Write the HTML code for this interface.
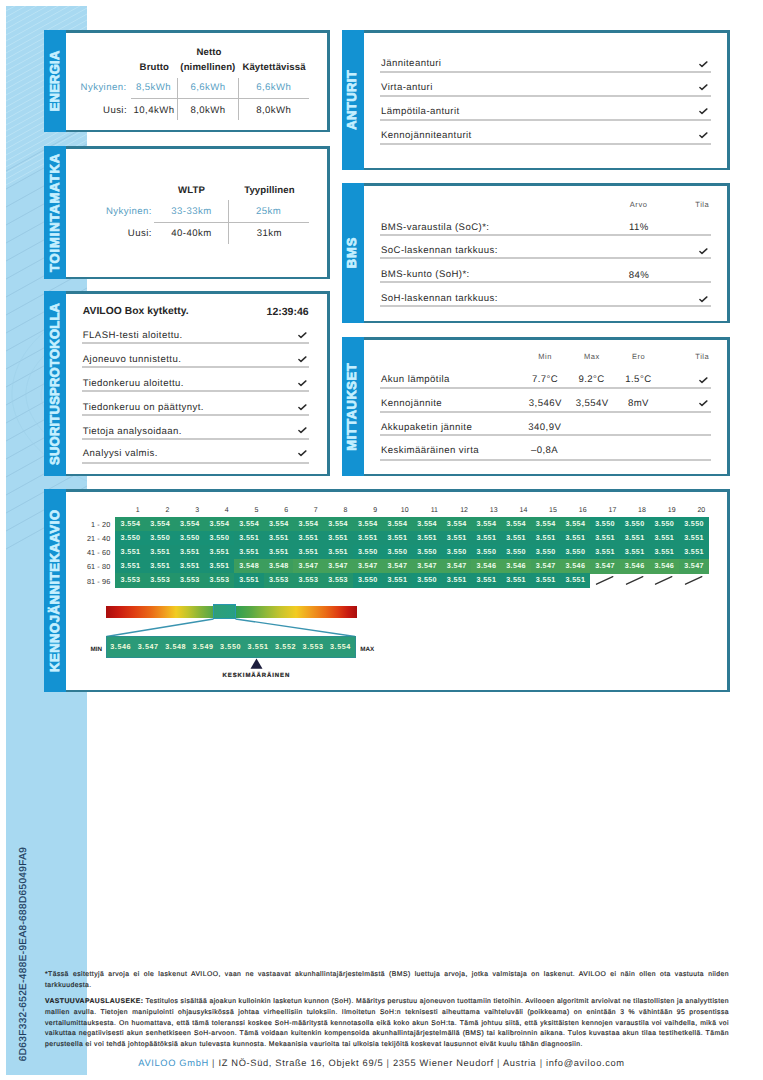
<!DOCTYPE html><html lang="fi"><head><meta charset="utf-8"><title>AVILOO</title><style>
*{margin:0;padding:0;box-sizing:border-box}
html,body{width:763px;height:1080px;overflow:hidden;background:#fff}
body{position:relative;font-family:"Liberation Sans",sans-serif;color:#2e2e2e;text-rendering:geometricPrecision}
.strip{position:absolute;left:6px;top:6px;width:81px;height:1069px;background:#a8d9f1;overflow:hidden}
.panel{position:absolute;background:#2f7a94}
.panel .bar{position:absolute;left:0;top:0;bottom:0;width:21px;background:#1392d2}
.panel .in{position:absolute;left:21px;top:2.5px;right:3px;bottom:2.5px;background:#fff}
.panel .lbl{position:absolute;left:9.3px;top:50%;transform:translate(-50%,-50%) rotate(-90deg);
  white-space:nowrap;font-weight:bold;font-size:13px;line-height:13px;color:#c6f0ff;letter-spacing:0;-webkit-text-stroke:0.75px #c6f0ff}
.t{position:absolute;white-space:nowrap;font-size:9.6px;letter-spacing:0.42px;color:#2b2b2b}
.b{font-weight:bold;letter-spacing:0.1px;color:#262626}
.blue{color:#5a9fc4}
.sm{font-size:7.5px;letter-spacing:0.55px;color:#555}
.sep{position:absolute;height:2px;background:#cbcbcb}
.vsep{position:absolute;width:1.4px;background:#bcbcbc}
.hsep{position:absolute;height:1.4px;background:#bcbcbc}
.ck{position:absolute;width:9px;height:7px;line-height:0}
.ck svg{display:block}
.cell{position:absolute;height:14.1px;line-height:14.1px;text-align:center;font-weight:bold;font-size:7.2px;color:#eefcec;letter-spacing:0.35px;padding-left:0.35px}
.num{position:absolute;font-size:7px;line-height:8px;color:#333;text-align:center;width:20px}
.rl{position:absolute;font-size:7.3px;line-height:8px;color:#333;text-align:right;width:40px;letter-spacing:0.1px}
.foot{position:absolute;left:45px;width:684px;font-size:6.8px;letter-spacing:0.45px;word-spacing:-0.6px;line-height:10.6px;color:#1a1a1a;-webkit-text-stroke:0.15px #1a1a1a;text-align:justify;text-align-last:justify;white-space:nowrap}
</style></head><body>
<div class="strip"><svg width="81" height="1069" viewBox="0 0 81 1069" style="position:absolute;left:0;top:0"><g stroke="#c0e5f6" stroke-width="0.9" fill="none" opacity="0.85"><line x1="0" y1="5" x2="81" y2="-40"/><line x1="0" y1="11" x2="81" y2="-34"/><line x1="0" y1="17" x2="81" y2="-28"/><line x1="0" y1="23" x2="81" y2="-22"/><line x1="0" y1="29" x2="81" y2="-16"/><line x1="0" y1="35" x2="81" y2="-10"/><line x1="0" y1="41" x2="81" y2="-4"/><line x1="0" y1="47" x2="81" y2="2"/><line x1="0" y1="53" x2="81" y2="8"/><line x1="0" y1="59" x2="81" y2="14"/><line x1="0" y1="65" x2="81" y2="20"/><line x1="0" y1="71" x2="81" y2="26"/><line x1="0" y1="77" x2="81" y2="32"/><line x1="0" y1="83" x2="81" y2="38"/><line x1="0" y1="89" x2="81" y2="44"/><line x1="0" y1="95" x2="81" y2="50"/><line x1="0" y1="101" x2="81" y2="56"/><line x1="0" y1="107" x2="81" y2="62"/><line x1="0" y1="113" x2="81" y2="68"/><line x1="0" y1="119" x2="81" y2="74"/><line x1="0" y1="125" x2="81" y2="80"/><line x1="0" y1="131" x2="81" y2="86"/><line x1="0" y1="137" x2="81" y2="92"/><line x1="0" y1="143" x2="81" y2="98"/><line x1="0" y1="149" x2="81" y2="104"/><line x1="0" y1="155" x2="81" y2="110"/><line x1="0" y1="161" x2="81" y2="116"/><line x1="0" y1="167" x2="81" y2="122"/><line x1="0" y1="173" x2="81" y2="128"/><line x1="0" y1="179" x2="81" y2="134"/></g><g stroke="#97c8e3" stroke-width="1" fill="none" opacity="0.85"><line x1="0" y1="165" x2="81" y2="120"/><line x1="0" y1="183" x2="81" y2="138"/><line x1="0" y1="201" x2="81" y2="156"/><line x1="0" y1="219" x2="81" y2="174"/><line x1="0" y1="237" x2="81" y2="192"/><line x1="0" y1="255" x2="81" y2="210"/><line x1="0" y1="273" x2="81" y2="228"/><line x1="0" y1="291" x2="81" y2="246"/><line x1="0" y1="309" x2="81" y2="264"/><line x1="0" y1="327" x2="81" y2="282"/><line x1="0" y1="345" x2="81" y2="300"/><line x1="0" y1="363" x2="81" y2="318"/><line x1="0" y1="381" x2="81" y2="336"/><line x1="0" y1="399" x2="81" y2="354"/><line x1="0" y1="417" x2="81" y2="372"/><line x1="0" y1="435" x2="81" y2="390"/><line x1="0" y1="453" x2="81" y2="408"/><line x1="0" y1="471" x2="81" y2="426"/><line x1="0" y1="489" x2="81" y2="444"/><line x1="0" y1="507" x2="81" y2="462"/><line x1="0" y1="525" x2="81" y2="480"/><line x1="0" y1="543" x2="81" y2="498"/></g><g stroke="#9dd0ea" stroke-width="0.8" fill="none" opacity="0.7"><path d="M81 300 C35 320 8 350 6 385 C4 420 35 455 81 475"/><path d="M81 322 C45 338 22 360 20 385 C18 412 45 440 81 455"/><path d="M81 345 C55 355 36 370 35 388 C34 405 55 425 81 432"/></g></svg><div style="position:absolute;left:11.3px;top:842px;width:14px;height:212px"><div style="position:absolute;left:7px;top:106px;transform:translate(-50%,-50%) rotate(-90deg);white-space:nowrap;font-size:10px;line-height:10px;color:#1d3c5e;letter-spacing:0.38px;-webkit-text-stroke:0.2px #1d3c5e">6D63F332-652E-488E-9EA8-688D65049FA9</div></div></div>
<div class="panel" style="left:44px;top:30px;width:286px;height:102px"><div class="bar" style="width:21.5px"></div><div class="in" style="left:21.5px"></div><div class="lbl" style="left:9.55px;letter-spacing:0.23px;padding-left:0.23px">ENERGIA</div></div>
<div class="panel" style="left:341.6px;top:30px;width:388.4px;height:140px"><div class="bar" style="width:22.2px"></div><div class="in" style="left:22.2px"></div><div class="lbl" style="left:9.90px;letter-spacing:0.43px;padding-left:0.43px">ANTURIT</div></div>
<div class="panel" style="left:44px;top:146px;width:286px;height:133px"><div class="bar" style="width:21.5px"></div><div class="in" style="left:21.5px"></div><div class="lbl" style="left:9.55px;letter-spacing:0.88px;padding-left:0.88px">TOIMINTAMATKA</div></div>
<div class="panel" style="left:341.6px;top:183px;width:388.4px;height:140px"><div class="bar" style="width:22.2px"></div><div class="in" style="left:22.2px"></div><div class="lbl" style="left:9.90px;letter-spacing:0.9px;padding-left:0.9px">BMS</div></div>
<div class="panel" style="left:44px;top:291px;width:286px;height:185px"><div class="bar" style="width:21.5px"></div><div class="in" style="left:21.5px"></div><div class="lbl" style="left:9.55px;letter-spacing:0.24px;padding-left:0.24px">SUORITUSPROTOKOLLA</div></div>
<div class="panel" style="left:341.6px;top:337px;width:388.4px;height:139px"><div class="bar" style="width:22.2px"></div><div class="in" style="left:22.2px"></div><div class="lbl" style="left:9.90px;letter-spacing:0.5px;padding-left:0.5px">MITTAUKSET</div></div>
<div class="panel" style="left:44px;top:489px;width:686px;height:203px"><div class="bar" style="width:21.5px"></div><div class="in" style="left:21.5px"></div><div class="lbl" style="left:9.55px;letter-spacing:0.59px;padding-left:0.59px">KENNOJÄNNITEKAAVIO</div></div>
<div class="t b" style="left:59.0px;width:300px;text-align:center;top:47.1px;line-height:12px;">Netto</div>
<div class="t b" style="left:4.3px;width:300px;text-align:center;top:62.3px;line-height:12px;">Brutto</div>
<div class="t b" style="left:57.9px;width:300px;text-align:center;top:62.3px;line-height:12px;">(nimellinen)</div>
<div class="t b" style="left:124.0px;width:300px;text-align:center;top:62.3px;line-height:12px;">Käytettävissä</div>
<div class="t blue" style="left:-173.5px;width:300px;text-align:right;top:81.8px;line-height:12px;">Nykyinen:</div>
<div class="t blue" style="left:3.5px;width:300px;text-align:center;top:81.8px;line-height:12px;">8,5kWh</div>
<div class="t blue" style="left:58.0px;width:300px;text-align:center;top:81.8px;line-height:12px;">6,6kWh</div>
<div class="t blue" style="left:123.8px;width:300px;text-align:center;top:81.8px;line-height:12px;">6,6kWh</div>
<div class="t " style="left:-173.0px;width:300px;text-align:right;top:104.8px;line-height:12px;">Uusi:</div>
<div class="t " style="left:4.0px;width:300px;text-align:center;top:104.8px;line-height:12px;">10,4kWh</div>
<div class="t " style="left:58.0px;width:300px;text-align:center;top:104.8px;line-height:12px;">8,0kWh</div>
<div class="t " style="left:123.8px;width:300px;text-align:center;top:104.8px;line-height:12px;">8,0kWh</div>
<div class="vsep" style="left:177.0px;top:77.5px;height:42.0px"></div>
<div class="vsep" style="left:238.0px;top:77.5px;height:42.0px"></div>
<div class="hsep" style="left:131.3px;top:98px;width:177.3px"></div>
<div class="t b" style="left:41.5px;width:300px;text-align:center;top:185.4px;line-height:12px;">WLTP</div>
<div class="t b" style="left:119.4px;width:300px;text-align:center;top:185.4px;line-height:12px;">Tyypillinen</div>
<div class="t blue" style="left:-148.2px;width:300px;text-align:right;top:205.6px;line-height:12px;">Nykyinen:</div>
<div class="t blue" style="left:41.5px;width:300px;text-align:center;top:205.6px;line-height:12px;">33-33km</div>
<div class="t blue" style="left:118.6px;width:300px;text-align:center;top:205.6px;line-height:12px;">25km</div>
<div class="t " style="left:-148.2px;width:300px;text-align:right;top:227.6px;line-height:12px;">Uusi:</div>
<div class="t " style="left:41.5px;width:300px;text-align:center;top:227.6px;line-height:12px;">40-40km</div>
<div class="t " style="left:119.4px;width:300px;text-align:center;top:227.6px;line-height:12px;">31km</div>
<div class="hsep" style="left:153.9px;top:222px;width:154.7px"></div>
<div class="vsep" style="left:228.0px;top:200.0px;height:44.0px"></div>
<div class="t b" style="left:82.8px;top:306.3px;line-height:12px;font-size:10.3px;letter-spacing:0.05px">AVILOO Box kytketty.</div>
<div class="t b" style="left:8.6px;width:300px;text-align:right;top:306.0px;line-height:12px;font-size:10.5px;letter-spacing:0">12:39:46</div>
<div class="t " style="left:82.8px;top:330.1px;line-height:12px;">FLASH-testi aloitettu.</div>
<div class="sep" style="left:82.0px;top:342px;width:227.0px"></div>
<div class="ck" style="left:297.5px;top:332.0px"><svg width="9" height="7" viewBox="0 0 9 7"><path d="M0.9 3.4 L3.0 5.4 L7.9 0.9" fill="none" stroke="#2c2c2c" stroke-width="1.45" stroke-linecap="round" stroke-linejoin="round"/></svg></div>
<div class="t " style="left:82.8px;top:354.1px;line-height:12px;">Ajoneuvo tunnistettu.</div>
<div class="sep" style="left:82.0px;top:366px;width:227.0px"></div>
<div class="ck" style="left:297.5px;top:356.0px"><svg width="9" height="7" viewBox="0 0 9 7"><path d="M0.9 3.4 L3.0 5.4 L7.9 0.9" fill="none" stroke="#2c2c2c" stroke-width="1.45" stroke-linecap="round" stroke-linejoin="round"/></svg></div>
<div class="t " style="left:82.8px;top:377.7px;line-height:12px;">Tiedonkeruu aloitettu.</div>
<div class="sep" style="left:82.0px;top:390px;width:227.0px"></div>
<div class="ck" style="left:297.5px;top:379.6px"><svg width="9" height="7" viewBox="0 0 9 7"><path d="M0.9 3.4 L3.0 5.4 L7.9 0.9" fill="none" stroke="#2c2c2c" stroke-width="1.45" stroke-linecap="round" stroke-linejoin="round"/></svg></div>
<div class="t " style="left:82.8px;top:401.8px;line-height:12px;">Tiedonkeruu on päättynyt.</div>
<div class="sep" style="left:82.0px;top:414px;width:227.0px"></div>
<div class="ck" style="left:297.5px;top:403.7px"><svg width="9" height="7" viewBox="0 0 9 7"><path d="M0.9 3.4 L3.0 5.4 L7.9 0.9" fill="none" stroke="#2c2c2c" stroke-width="1.45" stroke-linecap="round" stroke-linejoin="round"/></svg></div>
<div class="t " style="left:82.8px;top:425.5px;line-height:12px;">Tietoja analysoidaan.</div>
<div class="sep" style="left:82.0px;top:438px;width:227.0px"></div>
<div class="ck" style="left:297.5px;top:427.4px"><svg width="9" height="7" viewBox="0 0 9 7"><path d="M0.9 3.4 L3.0 5.4 L7.9 0.9" fill="none" stroke="#2c2c2c" stroke-width="1.45" stroke-linecap="round" stroke-linejoin="round"/></svg></div>
<div class="t " style="left:82.8px;top:448.1px;line-height:12px;">Analyysi valmis.</div>
<div class="sep" style="left:82.0px;top:462px;width:227.0px"></div>
<div class="ck" style="left:297.5px;top:450.0px"><svg width="9" height="7" viewBox="0 0 9 7"><path d="M0.9 3.4 L3.0 5.4 L7.9 0.9" fill="none" stroke="#2c2c2c" stroke-width="1.45" stroke-linecap="round" stroke-linejoin="round"/></svg></div>
<div class="t " style="left:381.0px;top:58.3px;line-height:12px;">Jänniteanturi</div>
<div class="sep" style="left:380.0px;top:71px;width:330.5px"></div>
<div class="ck" style="left:698.5px;top:60.5px"><svg width="9" height="7" viewBox="0 0 9 7"><path d="M0.9 3.4 L3.0 5.4 L7.9 0.9" fill="none" stroke="#2c2c2c" stroke-width="1.45" stroke-linecap="round" stroke-linejoin="round"/></svg></div>
<div class="t " style="left:381.0px;top:82.0px;line-height:12px;">Virta-anturi</div>
<div class="sep" style="left:380.0px;top:95px;width:330.5px"></div>
<div class="ck" style="left:698.5px;top:84.2px"><svg width="9" height="7" viewBox="0 0 9 7"><path d="M0.9 3.4 L3.0 5.4 L7.9 0.9" fill="none" stroke="#2c2c2c" stroke-width="1.45" stroke-linecap="round" stroke-linejoin="round"/></svg></div>
<div class="t " style="left:381.0px;top:106.1px;line-height:12px;">Lämpötila-anturit</div>
<div class="sep" style="left:380.0px;top:119px;width:330.5px"></div>
<div class="ck" style="left:698.5px;top:108.3px"><svg width="9" height="7" viewBox="0 0 9 7"><path d="M0.9 3.4 L3.0 5.4 L7.9 0.9" fill="none" stroke="#2c2c2c" stroke-width="1.45" stroke-linecap="round" stroke-linejoin="round"/></svg></div>
<div class="t " style="left:381.0px;top:130.0px;line-height:12px;">Kennojänniteanturit</div>
<div class="sep" style="left:380.0px;top:143px;width:330.5px"></div>
<div class="ck" style="left:698.5px;top:132.2px"><svg width="9" height="7" viewBox="0 0 9 7"><path d="M0.9 3.4 L3.0 5.4 L7.9 0.9" fill="none" stroke="#2c2c2c" stroke-width="1.45" stroke-linecap="round" stroke-linejoin="round"/></svg></div>
<div class="t sm" style="left:488.6px;width:300px;text-align:center;top:198.6px;line-height:12px;">Arvo</div>
<div class="t sm" style="left:552.3px;width:300px;text-align:center;top:198.6px;line-height:12px;">Tila</div>
<div class="t " style="left:381.0px;top:221.9px;line-height:12px;">BMS-varaustila (SoC)*:</div>
<div class="sep" style="left:380.0px;top:234px;width:330.5px"></div>
<div class="t " style="left:381.0px;top:244.8px;line-height:12px;">SoC-laskennan tarkkuus:</div>
<div class="sep" style="left:380.0px;top:257px;width:330.5px"></div>
<div class="ck" style="left:698.5px;top:247.5px"><svg width="9" height="7" viewBox="0 0 9 7"><path d="M0.9 3.4 L3.0 5.4 L7.9 0.9" fill="none" stroke="#2c2c2c" stroke-width="1.45" stroke-linecap="round" stroke-linejoin="round"/></svg></div>
<div class="t " style="left:381.0px;top:269.2px;line-height:12px;">BMS-kunto (SoH)*:</div>
<div class="sep" style="left:380.0px;top:281px;width:330.5px"></div>
<div class="t " style="left:381.0px;top:293.4px;line-height:12px;">SoH-laskennan tarkkuus:</div>
<div class="sep" style="left:380.0px;top:305px;width:330.5px"></div>
<div class="ck" style="left:698.5px;top:296.1px"><svg width="9" height="7" viewBox="0 0 9 7"><path d="M0.9 3.4 L3.0 5.4 L7.9 0.9" fill="none" stroke="#2c2c2c" stroke-width="1.45" stroke-linecap="round" stroke-linejoin="round"/></svg></div>
<div class="t " style="left:488.8px;width:300px;text-align:center;top:221.6px;line-height:12px;">11%</div>
<div class="t " style="left:488.9px;width:300px;text-align:center;top:269.7px;line-height:12px;">84%</div>
<div class="t sm" style="left:395.2px;width:300px;text-align:center;top:351.1px;line-height:12px;">Min</div>
<div class="t sm" style="left:441.8px;width:300px;text-align:center;top:351.1px;line-height:12px;">Max</div>
<div class="t sm" style="left:488.6px;width:300px;text-align:center;top:351.1px;line-height:12px;">Ero</div>
<div class="t sm" style="left:552.3px;width:300px;text-align:center;top:351.1px;line-height:12px;">Tila</div>
<div class="t " style="left:381.0px;top:374.4px;line-height:12px;">Akun lämpötila</div>
<div class="sep" style="left:380.0px;top:387px;width:330.5px"></div>
<div class="ck" style="left:698.5px;top:376.6px"><svg width="9" height="7" viewBox="0 0 9 7"><path d="M0.9 3.4 L3.0 5.4 L7.9 0.9" fill="none" stroke="#2c2c2c" stroke-width="1.45" stroke-linecap="round" stroke-linejoin="round"/></svg></div>
<div class="t " style="left:381.0px;top:398.1px;line-height:12px;">Kennojännite</div>
<div class="sep" style="left:380.0px;top:411px;width:330.5px"></div>
<div class="ck" style="left:698.5px;top:400.3px"><svg width="9" height="7" viewBox="0 0 9 7"><path d="M0.9 3.4 L3.0 5.4 L7.9 0.9" fill="none" stroke="#2c2c2c" stroke-width="1.45" stroke-linecap="round" stroke-linejoin="round"/></svg></div>
<div class="t " style="left:381.0px;top:421.7px;line-height:12px;">Akkupaketin jännite</div>
<div class="sep" style="left:380.0px;top:434px;width:330.5px"></div>
<div class="t " style="left:381.0px;top:444.6px;line-height:12px;">Keskimääräinen virta</div>
<div class="sep" style="left:380.0px;top:459px;width:330.5px"></div>
<div class="t " style="left:395.0px;width:300px;text-align:center;top:374.4px;line-height:12px;">7.7°C</div>
<div class="t " style="left:441.6px;width:300px;text-align:center;top:374.4px;line-height:12px;">9.2°C</div>
<div class="t " style="left:488.4px;width:300px;text-align:center;top:374.4px;line-height:12px;">1.5°C</div>
<div class="t " style="left:395.3px;width:300px;text-align:center;top:398.1px;line-height:12px;">3,546V</div>
<div class="t " style="left:442.2px;width:300px;text-align:center;top:398.1px;line-height:12px;">3,554V</div>
<div class="t " style="left:488.4px;width:300px;text-align:center;top:398.1px;line-height:12px;">8mV</div>
<div class="t " style="left:394.8px;width:300px;text-align:center;top:421.7px;line-height:12px;">340,9V</div>
<div class="t " style="left:394.5px;width:300px;text-align:center;top:444.6px;line-height:12px;">–0,8A</div>
<div class="num" style="left:127.8px;top:506.5px">1</div>
<div class="num" style="left:157.5px;top:506.5px">2</div>
<div class="num" style="left:187.1px;top:506.5px">3</div>
<div class="num" style="left:216.8px;top:506.5px">4</div>
<div class="num" style="left:246.4px;top:506.5px">5</div>
<div class="num" style="left:276.1px;top:506.5px">6</div>
<div class="num" style="left:305.8px;top:506.5px">7</div>
<div class="num" style="left:335.4px;top:506.5px">8</div>
<div class="num" style="left:365.1px;top:506.5px">9</div>
<div class="num" style="left:394.7px;top:506.5px">10</div>
<div class="num" style="left:424.4px;top:506.5px">11</div>
<div class="num" style="left:454.1px;top:506.5px">12</div>
<div class="num" style="left:483.7px;top:506.5px">13</div>
<div class="num" style="left:513.4px;top:506.5px">14</div>
<div class="num" style="left:543.0px;top:506.5px">15</div>
<div class="num" style="left:572.7px;top:506.5px">16</div>
<div class="num" style="left:602.4px;top:506.5px">17</div>
<div class="num" style="left:632.0px;top:506.5px">18</div>
<div class="num" style="left:661.7px;top:506.5px">19</div>
<div class="num" style="left:691.3px;top:506.5px">20</div>
<div class="rl" style="left:70.3px;top:521.0px">1 - 20</div>
<div class="cell" style="left:115.30px;top:517.00px;width:30.06px;height:14.40px;background:#26966a">3.554</div>
<div class="cell" style="left:144.96px;top:517.00px;width:30.06px;height:14.40px;background:#26966a">3.554</div>
<div class="cell" style="left:174.62px;top:517.00px;width:30.06px;height:14.40px;background:#26966a">3.554</div>
<div class="cell" style="left:204.28px;top:517.00px;width:30.06px;height:14.40px;background:#26966a">3.554</div>
<div class="cell" style="left:233.94px;top:517.00px;width:30.06px;height:14.40px;background:#26966a">3.554</div>
<div class="cell" style="left:263.60px;top:517.00px;width:30.06px;height:14.40px;background:#26966a">3.554</div>
<div class="cell" style="left:293.26px;top:517.00px;width:30.06px;height:14.40px;background:#26966a">3.554</div>
<div class="cell" style="left:322.92px;top:517.00px;width:30.06px;height:14.40px;background:#26966a">3.554</div>
<div class="cell" style="left:352.58px;top:517.00px;width:30.06px;height:14.40px;background:#26966a">3.554</div>
<div class="cell" style="left:382.24px;top:517.00px;width:30.06px;height:14.40px;background:#26966a">3.554</div>
<div class="cell" style="left:411.90px;top:517.00px;width:30.06px;height:14.40px;background:#26966a">3.554</div>
<div class="cell" style="left:441.56px;top:517.00px;width:30.06px;height:14.40px;background:#26966a">3.554</div>
<div class="cell" style="left:471.22px;top:517.00px;width:30.06px;height:14.40px;background:#26966a">3.554</div>
<div class="cell" style="left:500.88px;top:517.00px;width:30.06px;height:14.40px;background:#26966a">3.554</div>
<div class="cell" style="left:530.54px;top:517.00px;width:30.06px;height:14.40px;background:#26966a">3.554</div>
<div class="cell" style="left:560.20px;top:517.00px;width:30.06px;height:14.40px;background:#26966a">3.554</div>
<div class="cell" style="left:589.86px;top:517.00px;width:30.06px;height:14.40px;background:#189176">3.550</div>
<div class="cell" style="left:619.52px;top:517.00px;width:30.06px;height:14.40px;background:#189176">3.550</div>
<div class="cell" style="left:649.18px;top:517.00px;width:30.06px;height:14.40px;background:#189176">3.550</div>
<div class="cell" style="left:678.84px;top:517.00px;width:30.06px;height:14.40px;background:#189176">3.550</div>
<div class="rl" style="left:70.3px;top:535.1px">21 - 40</div>
<div class="cell" style="left:115.30px;top:531.10px;width:30.06px;height:14.40px;background:#189176">3.550</div>
<div class="cell" style="left:144.96px;top:531.10px;width:30.06px;height:14.40px;background:#189176">3.550</div>
<div class="cell" style="left:174.62px;top:531.10px;width:30.06px;height:14.40px;background:#189176">3.550</div>
<div class="cell" style="left:204.28px;top:531.10px;width:30.06px;height:14.40px;background:#189176">3.550</div>
<div class="cell" style="left:233.94px;top:531.10px;width:30.06px;height:14.40px;background:#1a9074">3.551</div>
<div class="cell" style="left:263.60px;top:531.10px;width:30.06px;height:14.40px;background:#1a9074">3.551</div>
<div class="cell" style="left:293.26px;top:531.10px;width:30.06px;height:14.40px;background:#1a9074">3.551</div>
<div class="cell" style="left:322.92px;top:531.10px;width:30.06px;height:14.40px;background:#1a9074">3.551</div>
<div class="cell" style="left:352.58px;top:531.10px;width:30.06px;height:14.40px;background:#1a9074">3.551</div>
<div class="cell" style="left:382.24px;top:531.10px;width:30.06px;height:14.40px;background:#1a9074">3.551</div>
<div class="cell" style="left:411.90px;top:531.10px;width:30.06px;height:14.40px;background:#1a9074">3.551</div>
<div class="cell" style="left:441.56px;top:531.10px;width:30.06px;height:14.40px;background:#1a9074">3.551</div>
<div class="cell" style="left:471.22px;top:531.10px;width:30.06px;height:14.40px;background:#1a9074">3.551</div>
<div class="cell" style="left:500.88px;top:531.10px;width:30.06px;height:14.40px;background:#1a9074">3.551</div>
<div class="cell" style="left:530.54px;top:531.10px;width:30.06px;height:14.40px;background:#1a9074">3.551</div>
<div class="cell" style="left:560.20px;top:531.10px;width:30.06px;height:14.40px;background:#1a9074">3.551</div>
<div class="cell" style="left:589.86px;top:531.10px;width:30.06px;height:14.40px;background:#1a9074">3.551</div>
<div class="cell" style="left:619.52px;top:531.10px;width:30.06px;height:14.40px;background:#1a9074">3.551</div>
<div class="cell" style="left:649.18px;top:531.10px;width:30.06px;height:14.40px;background:#1a9074">3.551</div>
<div class="cell" style="left:678.84px;top:531.10px;width:30.06px;height:14.40px;background:#1a9074">3.551</div>
<div class="rl" style="left:70.3px;top:549.2px">41 - 60</div>
<div class="cell" style="left:115.30px;top:545.20px;width:30.06px;height:14.40px;background:#1a9074">3.551</div>
<div class="cell" style="left:144.96px;top:545.20px;width:30.06px;height:14.40px;background:#1a9074">3.551</div>
<div class="cell" style="left:174.62px;top:545.20px;width:30.06px;height:14.40px;background:#1a9074">3.551</div>
<div class="cell" style="left:204.28px;top:545.20px;width:30.06px;height:14.40px;background:#1a9074">3.551</div>
<div class="cell" style="left:233.94px;top:545.20px;width:30.06px;height:14.40px;background:#1a9074">3.551</div>
<div class="cell" style="left:263.60px;top:545.20px;width:30.06px;height:14.40px;background:#1a9074">3.551</div>
<div class="cell" style="left:293.26px;top:545.20px;width:30.06px;height:14.40px;background:#1a9074">3.551</div>
<div class="cell" style="left:322.92px;top:545.20px;width:30.06px;height:14.40px;background:#1a9074">3.551</div>
<div class="cell" style="left:352.58px;top:545.20px;width:30.06px;height:14.40px;background:#189176">3.550</div>
<div class="cell" style="left:382.24px;top:545.20px;width:30.06px;height:14.40px;background:#189176">3.550</div>
<div class="cell" style="left:411.90px;top:545.20px;width:30.06px;height:14.40px;background:#189176">3.550</div>
<div class="cell" style="left:441.56px;top:545.20px;width:30.06px;height:14.40px;background:#189176">3.550</div>
<div class="cell" style="left:471.22px;top:545.20px;width:30.06px;height:14.40px;background:#189176">3.550</div>
<div class="cell" style="left:500.88px;top:545.20px;width:30.06px;height:14.40px;background:#189176">3.550</div>
<div class="cell" style="left:530.54px;top:545.20px;width:30.06px;height:14.40px;background:#189176">3.550</div>
<div class="cell" style="left:560.20px;top:545.20px;width:30.06px;height:14.40px;background:#189176">3.550</div>
<div class="cell" style="left:589.86px;top:545.20px;width:30.06px;height:14.40px;background:#1a9074">3.551</div>
<div class="cell" style="left:619.52px;top:545.20px;width:30.06px;height:14.40px;background:#1a9074">3.551</div>
<div class="cell" style="left:649.18px;top:545.20px;width:30.06px;height:14.40px;background:#1a9074">3.551</div>
<div class="cell" style="left:678.84px;top:545.20px;width:30.06px;height:14.40px;background:#1a9074">3.551</div>
<div class="rl" style="left:70.3px;top:563.3px">61 - 80</div>
<div class="cell" style="left:115.30px;top:559.30px;width:30.06px;height:14.40px;background:#1a9074">3.551</div>
<div class="cell" style="left:144.96px;top:559.30px;width:30.06px;height:14.40px;background:#1a9074">3.551</div>
<div class="cell" style="left:174.62px;top:559.30px;width:30.06px;height:14.40px;background:#1a9074">3.551</div>
<div class="cell" style="left:204.28px;top:559.30px;width:30.06px;height:14.40px;background:#1a9074">3.551</div>
<div class="cell" style="left:233.94px;top:559.30px;width:30.06px;height:14.40px;background:#3c9d5e">3.548</div>
<div class="cell" style="left:263.60px;top:559.30px;width:30.06px;height:14.40px;background:#3c9d5e">3.548</div>
<div class="cell" style="left:293.26px;top:559.30px;width:30.06px;height:14.40px;background:#44a05a">3.547</div>
<div class="cell" style="left:322.92px;top:559.30px;width:30.06px;height:14.40px;background:#44a05a">3.547</div>
<div class="cell" style="left:352.58px;top:559.30px;width:30.06px;height:14.40px;background:#44a05a">3.547</div>
<div class="cell" style="left:382.24px;top:559.30px;width:30.06px;height:14.40px;background:#44a05a">3.547</div>
<div class="cell" style="left:411.90px;top:559.30px;width:30.06px;height:14.40px;background:#44a05a">3.547</div>
<div class="cell" style="left:441.56px;top:559.30px;width:30.06px;height:14.40px;background:#44a05a">3.547</div>
<div class="cell" style="left:471.22px;top:559.30px;width:30.06px;height:14.40px;background:#49a258">3.546</div>
<div class="cell" style="left:500.88px;top:559.30px;width:30.06px;height:14.40px;background:#49a258">3.546</div>
<div class="cell" style="left:530.54px;top:559.30px;width:30.06px;height:14.40px;background:#44a05a">3.547</div>
<div class="cell" style="left:560.20px;top:559.30px;width:30.06px;height:14.40px;background:#49a258">3.546</div>
<div class="cell" style="left:589.86px;top:559.30px;width:30.06px;height:14.40px;background:#44a05a">3.547</div>
<div class="cell" style="left:619.52px;top:559.30px;width:30.06px;height:14.40px;background:#49a258">3.546</div>
<div class="cell" style="left:649.18px;top:559.30px;width:30.06px;height:14.40px;background:#49a258">3.546</div>
<div class="cell" style="left:678.84px;top:559.30px;width:30.06px;height:14.40px;background:#44a05a">3.547</div>
<div class="rl" style="left:70.3px;top:578.2px">81 - 96</div>
<div class="cell" style="left:115.30px;top:573.40px;width:30.06px;height:14.40px;background:#23946c">3.553</div>
<div class="cell" style="left:144.96px;top:573.40px;width:30.06px;height:14.40px;background:#23946c">3.553</div>
<div class="cell" style="left:174.62px;top:573.40px;width:30.06px;height:14.40px;background:#23946c">3.553</div>
<div class="cell" style="left:204.28px;top:573.40px;width:30.06px;height:14.40px;background:#23946c">3.553</div>
<div class="cell" style="left:233.94px;top:573.40px;width:30.06px;height:14.40px;background:#1a9074">3.551</div>
<div class="cell" style="left:263.60px;top:573.40px;width:30.06px;height:14.40px;background:#23946c">3.553</div>
<div class="cell" style="left:293.26px;top:573.40px;width:30.06px;height:14.40px;background:#23946c">3.553</div>
<div class="cell" style="left:322.92px;top:573.40px;width:30.06px;height:14.40px;background:#23946c">3.553</div>
<div class="cell" style="left:352.58px;top:573.40px;width:30.06px;height:14.40px;background:#189176">3.550</div>
<div class="cell" style="left:382.24px;top:573.40px;width:30.06px;height:14.40px;background:#1a9074">3.551</div>
<div class="cell" style="left:411.90px;top:573.40px;width:30.06px;height:14.40px;background:#189176">3.550</div>
<div class="cell" style="left:441.56px;top:573.40px;width:30.06px;height:14.40px;background:#1a9074">3.551</div>
<div class="cell" style="left:471.22px;top:573.40px;width:30.06px;height:14.40px;background:#1a9074">3.551</div>
<div class="cell" style="left:500.88px;top:573.40px;width:30.06px;height:14.40px;background:#1a9074">3.551</div>
<div class="cell" style="left:530.54px;top:573.40px;width:30.06px;height:14.40px;background:#1a9074">3.551</div>
<div class="cell" style="left:560.20px;top:573.40px;width:30.06px;height:14.40px;background:#1a9074">3.551</div>
<svg style="position:absolute;left:594.9px;top:575.4px" width="20" height="11" viewBox="0 0 20 11"><line x1="1.5" y1="9.2" x2="17.8" y2="1.6" stroke="#333" stroke-width="1.3" stroke-linecap="round"/></svg>
<svg style="position:absolute;left:624.5px;top:575.4px" width="20" height="11" viewBox="0 0 20 11"><line x1="1.5" y1="9.2" x2="17.8" y2="1.6" stroke="#333" stroke-width="1.3" stroke-linecap="round"/></svg>
<svg style="position:absolute;left:654.2px;top:575.4px" width="20" height="11" viewBox="0 0 20 11"><line x1="1.5" y1="9.2" x2="17.8" y2="1.6" stroke="#333" stroke-width="1.3" stroke-linecap="round"/></svg>
<svg style="position:absolute;left:683.8px;top:575.4px" width="20" height="11" viewBox="0 0 20 11"><line x1="1.5" y1="9.2" x2="17.8" y2="1.6" stroke="#333" stroke-width="1.3" stroke-linecap="round"/></svg>
<div style="position:absolute;left:106px;top:606px;width:251px;height:12px;background:linear-gradient(90deg,#a90d0d 0.0%,#c81a10 4.8%,#df3d12 11.2%,#ea6a16 17.9%,#f09a1e 23.1%,#f2cc22 27.9%,#c0c42c 32.7%,#88b438 37.5%,#5aa845 42.2%,#3aa04e 47.0%,#30a052 51.8%,#58a845 57.8%,#90b838 63.7%,#c8c42c 69.7%,#f2cc22 75.7%,#f09a1e 81.7%,#ea6a16 87.6%,#df3d12 92.4%,#c81a10 96.4%,#a90d0d 100.0%)"></div>
<div style="position:absolute;left:212.5px;top:603.8px;width:23px;height:15.6px;border:1.3px solid #2a97b0;background:linear-gradient(90deg,#2f9f78,#27a083)"></div>
<svg style="position:absolute;left:100px;top:615px" width="262" height="25" viewBox="100 615 262 25"><line x1="213.5" y1="619" x2="106.5" y2="636.5" stroke="#3a94b0" stroke-width="1.3"/><line x1="235.5" y1="619" x2="355" y2="636.5" stroke="#3a94b0" stroke-width="1.3"/></svg>
<div style="position:absolute;left:105.5px;top:636px;width:250.5px;height:22px;background:#2b9a78;border:1.2px solid #2a8f8f"></div>
<div class="cell" style="left:106.4px;top:640.0px;width:28px;height:14px;line-height:14px;color:#f2fbdc;letter-spacing:0.6px;padding-left:0.6px">3.546</div>
<div class="cell" style="left:133.9px;top:640.0px;width:28px;height:14px;line-height:14px;color:#f2fbdc;letter-spacing:0.6px;padding-left:0.6px">3.547</div>
<div class="cell" style="left:161.4px;top:640.0px;width:28px;height:14px;line-height:14px;color:#f2fbdc;letter-spacing:0.6px;padding-left:0.6px">3.548</div>
<div class="cell" style="left:188.8px;top:640.0px;width:28px;height:14px;line-height:14px;color:#f2fbdc;letter-spacing:0.6px;padding-left:0.6px">3.549</div>
<div class="cell" style="left:216.3px;top:640.0px;width:28px;height:14px;line-height:14px;color:#f2fbdc;letter-spacing:0.6px;padding-left:0.6px">3.550</div>
<div class="cell" style="left:243.8px;top:640.0px;width:28px;height:14px;line-height:14px;color:#f2fbdc;letter-spacing:0.6px;padding-left:0.6px">3.551</div>
<div class="cell" style="left:271.3px;top:640.0px;width:28px;height:14px;line-height:14px;color:#f2fbdc;letter-spacing:0.6px;padding-left:0.6px">3.552</div>
<div class="cell" style="left:298.8px;top:640.0px;width:28px;height:14px;line-height:14px;color:#f2fbdc;letter-spacing:0.6px;padding-left:0.6px">3.553</div>
<div class="cell" style="left:326.2px;top:640.0px;width:28px;height:14px;line-height:14px;color:#f2fbdc;letter-spacing:0.6px;padding-left:0.6px">3.554</div>
<div class="t b" style="left:-53.7px;width:300px;text-align:center;top:643.8px;line-height:12px;font-size:6.3px;letter-spacing:0;color:#222">MIN</div>
<div class="t b" style="left:217.3px;width:300px;text-align:center;top:643.8px;line-height:12px;font-size:6.3px;letter-spacing:0;color:#222">MAX</div>
<svg style="position:absolute;left:250px;top:658px" width="13" height="11" viewBox="0 0 13 11"><polygon points="6.5,0.5 12.5,10.8 0.5,10.8" fill="#1c1d3d"/></svg>
<div class="t b" style="left:106.4px;width:300px;text-align:center;top:670.1px;line-height:12px;font-size:6px;letter-spacing:0.9px;color:#222;-webkit-text-stroke:0.2px #222">KESKIMÄÄRÄINEN</div>
<div class="foot" style="top:970.4px;">*Tässä esitettyjä arvoja ei ole laskenut AVILOO, vaan ne vastaavat akunhallintajärjestelmästä (BMS) luettuja arvoja, jotka valmistaja on laskenut. AVILOO ei näin ollen ota vastuuta niiden</div>
<div class="foot" style="top:980.9px;text-align-last:left;word-spacing:0;">tarkkuudesta.</div>
<div class="foot" style="top:997.2px;"><b>VASTUUVAPAUSLAUSEKE:</b> Testitulos sisältää ajoakun kulloinkin lasketun kunnon (SoH). Määritys perustuu ajoneuvon tuottamiin tietoihin. Avilooen algoritmit arvioivat ne tilastollisten ja analyyttisten</div>
<div class="foot" style="top:1007.7px;">mallien avulla. Tietojen manipulointi ohjausyksikössä johtaa virheellisiin tuloksiin. Ilmoitetun SoH:n teknisesti aiheuttama vaihteluväli (poikkeama) on enintään 3 % vähintään 95 prosentissa</div>
<div class="foot" style="top:1018.6px;">vertailumittauksesta. On huomattava, että tämä toleranssi koskee SoH-määritystä kennotasolla eikä koko akun SoH:ta. Tämä johtuu siitä, että yksittäisten kennojen varaustila voi vaihdella, mikä voi</div>
<div class="foot" style="top:1029.2px;">vaikuttaa negatiivisesti akun senhetkiseen SoH-arvoon. Tämä voidaan kuitenkin kompensoida akunhallintajärjestelmällä (BMS) tai kalibroinnin aikana. Tulos kuvastaa akun tilaa testihetkellä. Tämän</div>
<div class="foot" style="top:1039.8px;text-align-last:left;word-spacing:0;">perusteella ei voi tehdä johtopäätöksiä akun tulevasta kunnosta. Mekaanisia vaurioita tai ulkoisia tekijöitä koskevat lausunnot eivät kuulu tähän diagnoosiin.</div>
<div class="t" style="left:0;width:763px;top:1057px;line-height:12px;text-align:center;font-size:9.3px;letter-spacing:0.66px;color:#333"><span style="color:#3d94c9">AVILOO GmbH</span> <span style="color:#555">|</span> IZ NÖ-Süd, Straße 16, Objekt 69/5 <span style="color:#555">|</span> 2355 Wiener Neudorf <span style="color:#555">|</span> Austria <span style="color:#555">|</span> info@aviloo.com</div>
</body></html>
